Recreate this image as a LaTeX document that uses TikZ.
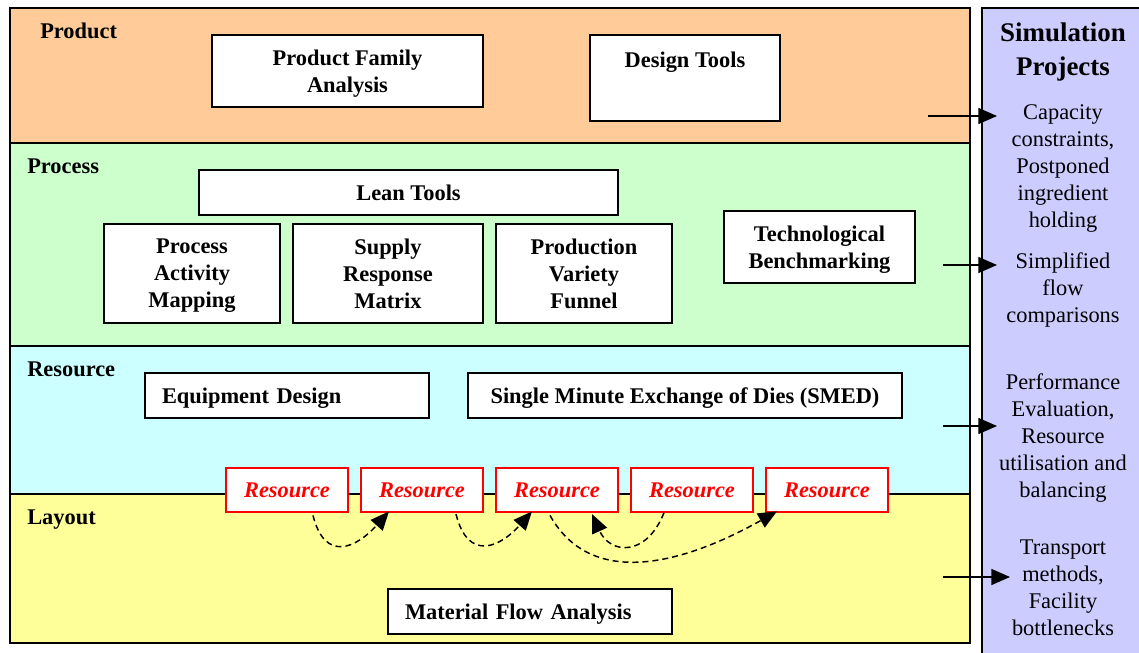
\documentclass[tikz,border=0pt]{standalone}
\usepackage{fontspec}
\setmainfont{Liberation Serif}
\usetikzlibrary{arrows.meta}

\definecolor{productbg}{HTML}{FFCC99}
\definecolor{processbg}{HTML}{CCFFCC}
\definecolor{resourcebg}{HTML}{CCFFFF}
\definecolor{layoutbg}{HTML}{FFFF99}
\definecolor{simbg}{HTML}{CCCCFF}

\tikzset{
  txt/.style={font=\fontsize{16.8}{20.25}\selectfont},
  tool/.style={draw, fill=white, line width=1.1pt, font=\fontsize{16.8}{20.25}\selectfont\bfseries, align=center, inner sep=0pt, text depth=0pt},
  lefttool/.style={tool, align=left, text width=187.5pt, inner xsep=12.75pt},
  res/.style={tool, draw=red, text=red, font=\fontsize{16.8}{20.25}\selectfont\bfseries\itshape, minimum width=91.5pt, minimum height=33pt},
  bandlabel/.style={font=\fontsize{16.8}{20.25}\selectfont\bfseries, anchor=base west, inner sep=0pt},
  simtext/.style={txt, align=center, inner sep=0pt},
  flow/.style={dash pattern=on 4.5pt off 3pt, line width=1.1pt, -{Triangle[length=14pt,width=12pt]}},
  feed/.style={line width=1.1pt, -{Triangle[length=14pt,width=12pt]}},
}

\begin{document}
\begin{tikzpicture}[x=0.75pt, y=-0.75pt]
        \useasboundingbox (0,0) rectangle (1139,653);
        % Bands and side panel:
        \draw[line width=1.1pt, fill=simbg] (982,8) rectangle (1150,670);
        \draw[line width=1.1pt, fill=productbg] (10,8) rectangle (970,143);
        \draw[line width=1.1pt, fill=processbg] (10,143) rectangle (970,346);
        \draw[line width=1.1pt, fill=resourcebg] (10,346) rectangle (970,494);
        \draw[line width=1.1pt, fill=layoutbg] (10,494) rectangle (970,643);
        \node[bandlabel] (Lprod) at (40,38) {Product};
        \node[bandlabel] (Lproc) at (27,173) {Process};
        \node[bandlabel] (Lres) at (27,376) {Resource};
        \node[bandlabel] (Llay) at (27,524) {Layout};
        % Tool boxes:
        \node[tool, minimum width=203.25pt, minimum height=54pt] (PFA) at (347.5,71) {Product Family\\Analysis};
        \node[tool, minimum width=142.5pt, minimum height=64.5pt] (DT) at (685,78) {};
        \node[txt, font=\fontsize{16.8}{20.25}\selectfont\bfseries, text depth=0pt] (DTtext) at (685,60) {Design Tools};
        \node[tool, minimum width=314.25pt, minimum height=33.75pt] (LT) at (408.5,192.5) {Lean Tools};
        \node[tool, minimum width=132pt, minimum height=74.25pt] (PAM) at (192,273.5) {Process\\Activity\\Mapping};
        \node[tool, minimum width=142.5pt, minimum height=74.25pt] (SRM) at (388,273.5) {Supply\\Response\\Matrix};
        \node[tool, minimum width=132pt, minimum height=74.25pt] (PVF) at (584,273.5) {Production\\Variety\\Funnel};
        \node[tool, minimum width=143.25pt, minimum height=54pt] (TB) at (819.5,247) {Technological\\Benchmarking};
        \node[lefttool, minimum height=33.75pt] (ED) at (287,395.5) {Equipment Design};
        \node[tool, minimum width=325.5pt, minimum height=33.75pt] (SMED) at (685,395.5) {Single Minute Exchange of Dies (SMED)};
        \node[lefttool, minimum height=33.75pt] (MFA) at (530,611.5) {Material Flow Analysis};
        % Resources:
        \node[res] (R1) at (287,490) {Resource};
        \node[res] (R2) at (422,490) {Resource};
        \node[res] (R3) at (557,490) {Resource};
        \node[res] (R4) at (692,490) {Resource};
        \node[res] (R5) at (827,490) {Resource};
        \draw[flow] ([xshift=19.5pt,yshift=-2pt]R1.south) .. controls +(12,48) and +(-32,36) .. ([xshift=-24.75pt,yshift=1pt]R2.south);
        \draw[flow] ([xshift=25.5pt,yshift=-1pt]R2.south) .. controls +(12,48) and +(-32,36) .. ([xshift=-18.75pt,yshift=1pt]R3.south);
        \draw[flow] ([xshift=-21pt]R4.south) .. controls +(-18,45) and +(18,40) .. ([xshift=26.25pt,yshift=-1pt]R3.south);
        \draw[flow] ([xshift=-5.25pt,yshift=-2pt]R3.south) .. controls +(45,80) and +(-80,45) .. ([xshift=-37.5pt,yshift=1pt]R5.south);
        % Simulation projects:
        \node[simtext, font=\fontsize{20.2}{25.5}\selectfont\bfseries] (SP) at (1063,52) {Simulation\\Projects};
        \node[simtext] (S1) at (1063,168) {Capacity\\constraints,\\Postponed\\ingredient\\holding};
        \node[simtext] (S2) at (1063,290) {Simplified\\flow\\comparisons};
        \node[simtext] (S3) at (1063,438) {Performance\\Evaluation,\\Resource\\utilisation and\\balancing};
        \node[simtext] (S4) at (1063,587.5) {Transport\\methods,\\Facility\\bottlenecks};
        \coordinate (A1) at (928,116);
        \coordinate (A2) at (943,265);
        \coordinate (A3) at (943,426);
        \coordinate (A4) at (943,577);
        \coordinate (T1) at (997,116);
        \coordinate (T2) at (997,265);
        \coordinate (T3) at (997,426);
        \coordinate (T4) at (1010,577);
        \draw[feed] (A1) -- (T1);
        \draw[feed] (A2) -- (T2);
        \draw[feed] (A3) -- (T3);
        \draw[feed] (A4) -- (T4);
\end{tikzpicture}
\end{document}
